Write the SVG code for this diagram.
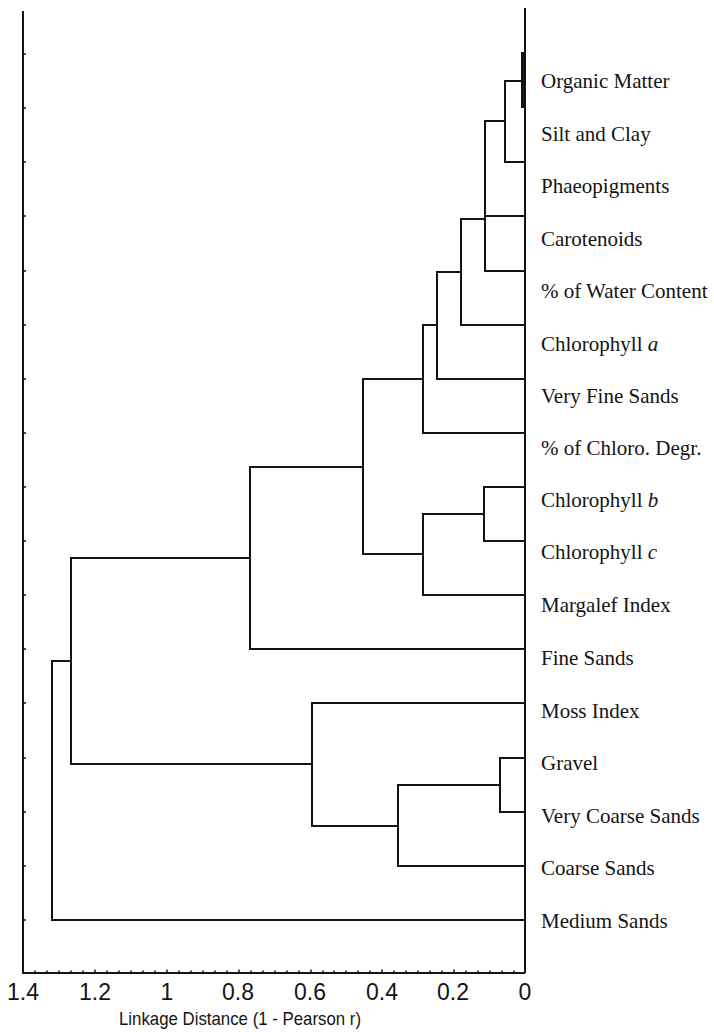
<svg xmlns="http://www.w3.org/2000/svg" width="714" height="1032" viewBox="0 0 714 1032">
<style>
.ln{fill:none;stroke:#141414;stroke-width:2;stroke-linecap:square}
.ax{fill:none;stroke:#141414;stroke-width:2}
.tk{fill:none;stroke:#141414;stroke-width:1.5}
.lb{font-family:"Liberation Sans Narrow","Liberation Serif","Times New Roman",serif;font-size:21px;fill:#141414}
.lb{font-family:"Liberation Serif","Times New Roman",serif}
.num{font-family:"Liberation Sans",Arial,sans-serif;font-size:23px;fill:#141414;text-anchor:middle}
.ttl{font-family:"Liberation Sans",Arial,sans-serif;font-size:19px;fill:#141414;text-anchor:middle}
</style>
<rect width="714" height="1032" fill="#fff"/>
<g id="axes">
<path class="ax" d="M23 11 V973 H525 M525 8 V973"/>
<path class="tk" d="M23 54 h3 M23 108 h3 M23 162 h3 M23 216 h3 M23 271 h3 M23 325 h3 M23 379 h3 M23 433 h3 M23 487 h3 M23 541 h3 M23 595 h3 M23 649 h3 M23 703 h3 M23 758 h3 M23 812 h3 M23 866 h3 M23 920 h3"/>
<path class="tk" d="M35 973v-2.5M47 973v-2.5M59 973v-2.5M71 973v-2.5M83 973v-2.5M95 973v-3.5M107 973v-2.5M119 973v-2.5M131 973v-2.5M143 973v-2.5M155 973v-2.5M167 973v-3.5M179 973v-2.5M191 973v-2.5M203 973v-2.5M215 973v-2.5M227 973v-2.5M239 973v-3.5M251 973v-2.5M263 973v-2.5M275 973v-2.5M287 973v-2.5M299 973v-2.5M311 973v-3.5M323 973v-2.5M334 973v-2.5M346 973v-2.5M358 973v-2.5M370 973v-2.5M382 973v-3.5M394 973v-2.5M406 973v-2.5M418 973v-2.5M430 973v-2.5M442 973v-2.5M454 973v-3.5M466 973v-2.5M478 973v-2.5M490 973v-2.5M502 973v-2.5M514 973v-2.5"/>
<text class="num" x="23" y="1000">1.4</text>
<text class="num" x="95" y="1000">1.2</text>
<text class="num" x="167" y="1000">1</text>
<text class="num" x="238" y="1000">0.8</text>
<text class="num" x="310" y="1000">0.6</text>
<text class="num" x="382" y="1000">0.4</text>
<text class="num" x="453" y="1000">0.2</text>
<text class="num" x="525" y="1000">0</text>
<text class="ttl" x="240" y="1025" textLength="242" lengthAdjust="spacingAndGlyphs">Linkage Distance (1 - Pearson r)</text>
</g>
<g id="connectors">
<rect x="521" y="52" width="4" height="56" fill="#141414"/>
<path class="ln" d="M522 81 H505 V162 H525"/>
<path class="ln" d="M505 121 H485 V271 H525 M485 216 H525"/>
<path class="ln" d="M485 219 H461 V325 H525"/>
<path class="ln" d="M461 272 H437 V379 H525"/>
<path class="ln" d="M437 325 H423 V433 H525"/>
<path class="ln" d="M525 487 H484 V541 H525"/>
<path class="ln" d="M484 514 H423 V595 H525"/>
<path class="ln" d="M423 379 H363 V554 H423"/>
<path class="ln" d="M363 467 H250 V649 H525"/>
<path class="ln" d="M525 758 H500 V812 H525"/>
<path class="ln" d="M500 785 H398 V866 H525"/>
<path class="ln" d="M525 703 H312 V826 H398"/>
<path class="ln" d="M250 558 H71 V764 H312"/>
<path class="ln" d="M71 661 H52 V920 H525"/>
</g>
<g id="leaf-organic-matter"><text class="lb" x="541" y="88">Organic Matter</text></g>
<g id="leaf-silt-clay"><text class="lb" x="541" y="141">Silt and Clay</text></g>
<g id="leaf-phaeopigments"><text class="lb" x="541" y="193">Phaeopigments</text></g>
<g id="leaf-carotenoids"><text class="lb" x="541" y="246">Carotenoids</text></g>
<g id="leaf-water"><text class="lb" x="541" y="298">% of Water Content</text></g>
<g id="leaf-chl-a"><text class="lb" x="541" y="351">Chlorophyll <tspan font-style="italic">a</tspan></text></g>
<g id="leaf-very-fine-sands"><text class="lb" x="541" y="403">Very Fine Sands</text></g>
<g id="leaf-chloro-degr"><text class="lb" x="541" y="455">% of Chloro. Degr.</text></g>
<g id="leaf-chl-b"><text class="lb" x="541" y="507">Chlorophyll <tspan font-style="italic">b</tspan></text></g>
<g id="leaf-chl-c"><text class="lb" x="541" y="559">Chlorophyll <tspan font-style="italic">c</tspan></text></g>
<g id="leaf-margalef"><text class="lb" x="541" y="612">Margalef Index</text></g>
<g id="leaf-fine-sands"><text class="lb" x="541" y="665">Fine Sands</text></g>
<g id="leaf-moss"><text class="lb" x="541" y="718">Moss Index</text></g>
<g id="leaf-gravel"><text class="lb" x="541" y="770">Gravel</text></g>
<g id="leaf-very-coarse-sands"><text class="lb" x="541" y="823">Very Coarse Sands</text></g>
<g id="leaf-coarse-sands"><text class="lb" x="541" y="875">Coarse Sands</text></g>
<g id="leaf-medium-sands"><text class="lb" x="541" y="928">Medium Sands</text></g>
</svg>
